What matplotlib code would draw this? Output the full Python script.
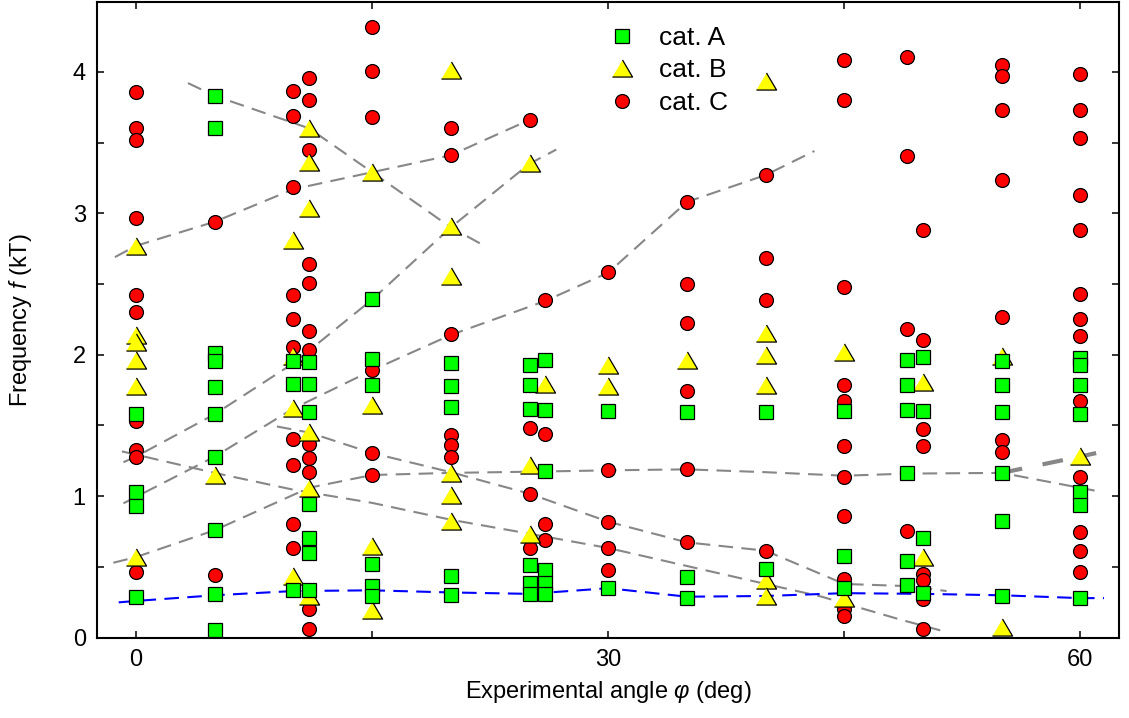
import matplotlib
matplotlib.use("Agg")
import matplotlib.pyplot as plt
from matplotlib.ticker import MultipleLocator

plt.rcParams["font.family"] = ["Liberation Sans", "DejaVu Sans"]
plt.rcParams["mathtext.fontset"] = "custom"
plt.rcParams["mathtext.rm"] = "Liberation Sans"
plt.rcParams["mathtext.it"] = "Liberation Sans:italic"
plt.rcParams["font.size"] = 17

# category A (squares)
a_x = [0, 0, 0, 0,
       5, 5, 5, 5, 5, 5, 5, 5, 5, 5,
       10, 10, 10,
       11, 11, 11, 11, 11, 11, 11,
       15, 15, 15, 15, 15, 15,
       20, 20, 20, 20, 20,
       25, 25, 25, 25, 25, 25,
       26, 26, 26, 26, 26, 26,
       30, 30,
       35, 35, 35,
       40, 40,
       45, 45, 45,
       49, 49, 49, 49, 49, 49,
       50, 50, 50, 50,
       55, 55, 55, 55, 55, 55,
       60, 60, 60, 60, 60, 60, 60]
a_y = [1.58, 1.03, 0.93, 0.285,
       3.83, 3.60, 2.01, 1.955, 1.775, 1.58, 1.28, 0.763, 0.31, 0.057,
       1.953, 1.793, 0.339,
       1.946, 1.793, 1.593, 0.945, 0.704, 0.599, 0.339,
       2.394, 1.969, 1.783, 0.521, 0.363, 0.292,
       1.941, 1.781, 1.628, 0.433, 0.304,
       1.925, 1.783, 1.616, 0.516, 0.387, 0.311,
       1.965, 1.611, 1.175, 0.476, 0.387, 0.311,
       1.604, 0.351,
       1.595, 0.429, 0.281,
       1.597, 0.485,
       1.60, 0.58, 0.351,
       1.96, 1.788, 1.611, 1.164, 0.544, 0.37,
       1.984, 1.602, 0.704, 0.316,
       1.953, 1.788, 1.597, 1.164, 0.822, 0.297,
       1.976, 1.925, 1.783, 1.579, 1.03, 0.935, 0.281]

# category B (triangles)
b_x = [0, 0, 0, 0, 0, 0,
       5,
       10, 10, 10, 10,
       11, 11, 11, 11, 11, 11,
       15, 15, 15, 15,
       20, 20, 20, 20, 20, 20,
       25, 25, 25,
       26,
       30, 30,
       35,
       40, 40, 40, 40, 40, 40,
       45, 45,
       50, 50,
       55, 55,
       60]
b_y = [2.766, 2.141, 2.087, 1.965, 1.776, 0.570,
       1.15,
       2.813, 1.99, 1.623, 0.433,
       3.602, 3.362, 3.037, 1.451, 1.058, 0.292,
       3.29, 1.647, 0.645, 0.198,
       4.014, 2.907, 2.553, 1.164, 1.006, 0.822,
       3.354, 1.218, 0.735,
       1.795,
       1.929, 1.776,
       1.96,
       3.932, 2.153, 1.995, 1.788, 0.405, 0.297,
       2.017, 0.281,
       1.809, 0.568,
       1.993, 0.076,
       1.281]

# category C (circles)
c_x = [0, 0, 0, 0, 0, 0, 0, 0, 0, 0,
       5, 5,
       10, 10, 10, 10, 10, 10, 10, 10, 10, 10,
       11, 11, 11, 11, 11, 11, 11, 11, 11, 11, 11, 11,
       15, 15, 15, 15, 15, 15,
       20, 20, 20, 20, 20, 20,
       25, 25, 25, 25,
       26, 26, 26, 26,
       30, 30, 30, 30, 30,
       35, 35, 35, 35, 35, 35,
       40, 40, 40, 40,
       45, 45, 45, 45, 45, 45, 45, 45, 45, 45, 45,
       49, 49, 49, 49,
       50, 50, 50, 50, 50, 50, 50, 50,
       55, 55, 55, 55, 55, 55, 55,
       60, 60, 60, 60, 60, 60, 60, 60, 60, 60, 60, 60, 60]
c_y = [3.854, 3.604, 3.515, 2.963, 2.422, 2.304, 1.529, 1.324, 1.277, 0.464,
       2.938, 0.443,
       3.866, 3.689, 3.185, 2.422, 2.254, 2.054, 1.406, 1.223, 0.806, 0.631,
       3.953, 3.802, 3.449, 2.643, 2.507, 2.17, 2.03, 1.371, 1.27, 1.168, 0.203, 0.061,
       4.314, 4.002, 3.682, 1.894, 1.305, 1.152,
       3.604, 3.413, 2.144, 1.435, 1.359, 1.274,
       3.661, 1.482, 1.018, 0.631,
       2.384, 1.442, 0.803, 0.693,
       2.582, 1.183, 0.82, 0.634, 0.476,
       3.077, 2.502, 2.224, 1.746, 1.192, 0.674,
       3.272, 2.683, 2.384, 0.615,
       4.085, 3.802, 2.476, 1.783, 1.67, 1.352, 1.138, 0.858, 0.415, 0.203, 0.155,
       4.103, 3.406, 2.184, 0.751,
       2.883, 2.106, 1.475, 1.352, 0.45, 0.405, 0.273, 0.064,
       4.05, 3.972, 3.731, 3.232, 2.264, 1.399, 1.312,
       3.983, 3.727, 3.531, 3.131, 2.883, 2.429, 2.252, 2.134, 1.675, 1.133, 0.744, 0.615, 0.462]

# grey mode-tracking curves
trend1_x = [3.3, 5, 11, 15, 20, 22.3]
trend1_y = [3.92, 3.83, 3.60, 3.29, 2.90, 2.76]
trend2_x = [-1.34, 0, 5, 10, 15, 20, 25]
trend2_y = [2.69, 2.77, 2.94, 3.17, 3.29, 3.41, 3.66]
trend3_x = [-0.8, 0, 5, 10, 15, 20, 25, 26.7]
trend3_y = [1.24, 1.28, 1.58, 1.94, 2.39, 2.90, 3.35, 3.45]
trend4_x = [-0.8, 5, 10, 15, 20, 26, 30, 35, 40, 43.1]
trend4_y = [0.95, 1.28, 1.62, 1.89, 2.14, 2.38, 2.58, 3.08, 3.27, 3.44]
trend5_x = [-1.44, 0, 5, 11, 15, 20, 26, 30, 35, 40, 45, 49, 55, 60.9]
trend5_y = [0.53, 0.57, 0.76, 1.06, 1.15, 1.165, 1.175, 1.183, 1.19, 1.17, 1.145, 1.16, 1.165, 1.04]
trend6_x = [55, 60, 61.0]
trend6_y = [1.165, 1.281, 1.305]
trend7_x = [-0.9, 5, 10, 15, 20, 25, 30, 40, 43.5, 48.6, 51.1]
trend7_y = [1.317, 1.165, 1.046, 0.953, 0.834, 0.735, 0.634, 0.38, 0.292, 0.127, 0.052]
trend8_x = [8.95, 11, 15, 20, 25, 30, 35, 40, 45, 49, 51.5]
trend8_y = [1.493, 1.45, 1.305, 1.17, 1.018, 0.82, 0.674, 0.615, 0.38, 0.365, 0.33]

# blue baseline
base_x = [-1.1, 0, 5, 10, 15, 20, 25, 30, 35, 40, 45, 50, 55, 60, 61.5]
base_y = [0.25, 0.26, 0.30, 0.33, 0.335, 0.32, 0.31, 0.35, 0.29, 0.295, 0.315, 0.31, 0.30, 0.28, 0.28]

fig, ax = plt.subplots(figsize=(11.29, 7.18), dpi=100)
fig.subplots_adjust(left=0.0859, right=0.9914, top=0.9976, bottom=0.1118)

grey = "#878787"
thin = [(trend1_x, trend1_y), (trend2_x, trend2_y), (trend3_x, trend3_y),
        (trend4_x, trend4_y), (trend5_x, trend5_y), (trend7_x, trend7_y),
        (trend8_x, trend8_y)]
for tx, ty in thin:
    ax.plot(tx, ty, color=grey, linewidth=1.5, dashes=(7, 4), zorder=1)
ax.plot(trend6_x, trend6_y, color=grey, linewidth=3, dashes=(5, 5), zorder=1)
ax.plot(base_x, base_y, color="#0000ff", linewidth=1.5, dashes=(7, 4), zorder=1)

# slightly flattened triangle, like the original symbols
tri = [(-1, -0.85), (1, -0.85), (0, 0.85)]

hc, = ax.plot(c_x, c_y, "o", ms=10, mfc="#ff0000", mec="black", mew=0.9,
              linestyle="none", zorder=2, label="cat. C")
hb, = ax.plot(b_x, b_y, marker=tri, ms=14.5, mfc="#ffff00", mec="black", mew=0.9,
              linestyle="none", zorder=3, label="cat. B")
ha, = ax.plot(a_x, a_y, "s", ms=10.5, mfc="#00ff00", mec="black", mew=0.9,
              linestyle="none", zorder=4, label="cat. A")

ax.set_xlim(-2.48, 62.47)
ax.set_ylim(0, 4.495)
ax.xaxis.set_major_locator(MultipleLocator(30))
ax.xaxis.set_minor_locator(MultipleLocator(15))
ax.yaxis.set_major_locator(MultipleLocator(1))
ax.yaxis.set_minor_locator(MultipleLocator(0.5))
ax.tick_params(which="both", direction="in", top=True, right=True,
               length=5, width=1.1)
ax.tick_params(axis="x", pad=8)
ax.tick_params(axis="y", pad=8)
for s in ax.spines.values():
    s.set_linewidth(1.5)

ax.set_xlabel(r"Experimental angle $\varphi$ (deg)", labelpad=6)
ax.set_ylabel(r"Frequency $f$ (kT)", labelpad=28)

ax.legend(handles=[ha, hb, hc], loc="upper left", bbox_to_anchor=(0.490, 0.9785),
          frameon=False, borderaxespad=0, fontsize=19, handlelength=1.0,
          handletextpad=0.9, labelspacing=0.32, borderpad=0.4)

plt.savefig("out.png", dpi=100)
